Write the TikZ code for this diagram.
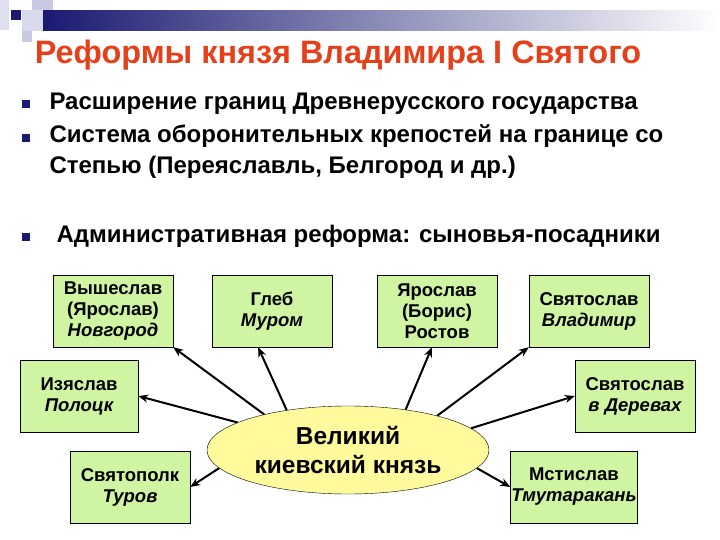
\documentclass[tikz,border=0pt]{standalone}
\usepackage{fontspec}
\setmainfont{Liberation Sans}
\usetikzlibrary{arrows.meta,shapes.geometric}
\definecolor{titlered}{HTML}{E5401A}
\definecolor{navy}{HTML}{1A1A72}
\definecolor{lavender}{HTML}{C9C9E4}
\definecolor{boxgreen}{HTML}{CFF5A3}
\definecolor{ovalyellow}{HTML}{FFFA9C}
\tikzset{
  son/.style    = {draw, rectangle, fill=boxgreen, minimum width=120,
                   minimum height=72, inner sep=1pt, align=center,
                   font=\fontsize{18.5}{21}\bfseries\selectfont},
  prince/.style = {draw, ellipse, fill=ovalyellow, inner sep=0pt,
                   minimum width=282, minimum height=88, align=center,
                   font=\fontsize{24.5}{29}\bfseries\selectfont},
  bullet/.style = {fill=navy, rectangle, inner sep=0pt, minimum size=8},
  item/.style   = {anchor=west, align=left,
                   font=\fontsize{24}{31}\bfseries\selectfont},
  rule/.style   = {-{Stealth[length=10pt,width=8pt]}, line width=2pt},
}

\begin{document}
\begin{tikzpicture}[x=1pt,y=-1pt]
\useasboundingbox (0,0) rectangle (720,540);
% slide header
\fill[lavender!60] (0,0) rectangle (9,30);
\fill[lavender] (32,0) rectangle (53,10);
\fill[lavender!70] (22,10) rectangle (44,31);
\fill[lavender] (22,31) rectangle (32,42);
\shade[left color=navy, right color=white] (43,11) rectangle (720,31);
\fill[navy] (11,10) rectangle (21,20);
\node[titlered,font=\fontsize{32.4}{36}\bfseries\selectfont] (title) at (338,55)
  {Реформы князя Владимира I Святого};
% bullets
\node[bullet] (b1) at (26,104) {};
\node[bullet] (b2) at (26,138) {};
\node[bullet] (b3) at (26,237) {};
\node[item] (t1) at (46,104) {Расширение границ Древнерусского государства};
\node[item] (t2) at (46,152) {Система оборонительных крепостей на границе со\\
  Степью (Переяславль, Белгород и др.)};
\node[item] (t3) at (53,236) {Административная реформа: сыновья-посадники};
% sons
\node[son] (v)  at (113,311) {Вышеслав\\(Ярослав)\\\itshape Новгород};
\node[son] (g)  at (272,311) {Глеб\\\itshape Муром};
\node[son] (ya) at (437,311) {Ярослав\\(Борис)\\Ростов};
\node[son] (sv) at (589,311) {Святослав\\\itshape Владимир};
\node[son,minimum width=118] (iz) at (79,396) {Изяслав\\\itshape Полоцк};
\node[son] (sd) at (635,396) {Святослав\\\itshape в Деревах};
\node[son] (sp) at (130,487) {Святополк\\\itshape Туров};
\node[son,minimum width=123] (m) at (574,487) {Мстислав\\\itshape Тмутаракань};
% grand prince
\node[prince] (K) at (348,450) {Великий\\киевский князь};
\draw[rule] (K.157) -- (v.south east);
\draw[rule] (K.147) -- (g.-111);
\draw[rule] (K.35) -- (ya.-98);
\draw[rule] (K.21) -- (sv.south west);
\draw[rule] (K.10) -- (sd.west);
\draw[rule] (K.-8) -- (m.west);
\draw[rule] (K.166) -- (iz.east);
\draw[rule] (K.188) -- (sp.east);
\end{tikzpicture}
\end{document}
